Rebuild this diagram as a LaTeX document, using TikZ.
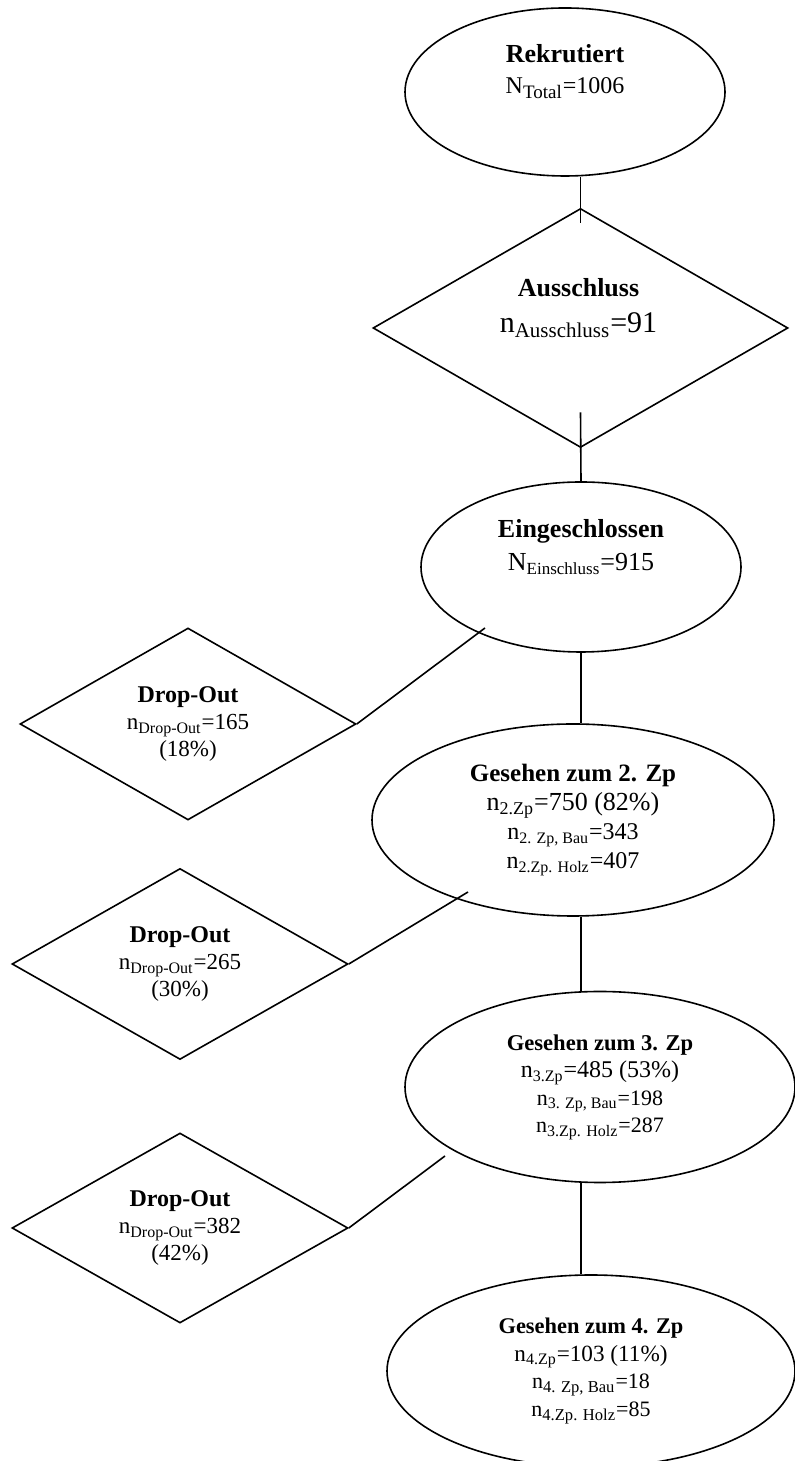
\documentclass[tikz,border=0pt]{standalone}
\usepackage{fontspec}
\setmainfont{Liberation Serif}
\usetikzlibrary{shapes.geometric}

\newcommand{\idx}[2]{\textsubscript{\fontsize{#1}{#1}\selectfont #2}}
\newcommand{\tsz}[2]{\fontsize{#1}{#2}\selectfont}

\begin{document}
\begin{tikzpicture}[x=.5pt,y=.5pt,line width=.8pt,
    oval/.style={draw,ellipse,inner sep=0pt,align=center},
    rhomb/.style={draw,diamond,aspect=1.75,inner sep=0pt,align=center},
    txt/.style={inner sep=0pt,align=center}]
  \useasboundingbox (0,0) rectangle (795,1461);

  % main column
  \node[oval,minimum width=160pt,minimum height=84pt] (rek) at (565,1369) {};
  \node[txt,font=\tsz{13}{15.5}] (rek-t) at ([shift={(0,20)}]rek.center)
    {\tsz{13}{15.5}\textbf{Rekrutiert}\\\tsz{12}{15.5}N\idx{9.5}{Total}=1006};
  \node[rhomb,minimum width=207.5pt,minimum height=119.5pt] (aus) at (580.5,1133) {};
  \node[txt,font=\tsz{13}{18}] (aus-t) at ([shift={(-2,20)}]aus.center)
    {\tsz{13}{18}\textbf{Ausschluss}\\\tsz{15}{18}n\idx{10.5}{Ausschluss}=91};
  \node[oval,minimum width=160pt,minimum height=85pt] (ein) at (581,894) {};
  \node[txt,font=\tsz{13}{16.5}] (ein-t) at ([shift={(0,20)}]ein.center)
    {\tsz{13}{16.5}\textbf{Eingeschlossen}\\\tsz{13}{16.5}N\idx{8.5}{Einschluss}=915};
  \node[oval,minimum width=201pt,minimum height=96pt,font=\tsz{12}{14.5}] (zp2) at (573,641)
    {\tsz{12.5}{14.5}\textbf{Gesehen zum 2. Zp}\\\tsz{13}{14.5}n\idx{9}{2.Zp}=750 (82\%)\\
     \tsz{12}{14.5}n\idx{8}{2. Zp, Bau}=343\\\tsz{12}{14.5}n\idx{8}{2.Zp. Holz}=407};
  \node[oval,minimum width=195pt,minimum height=95.5pt,font=\tsz{11}{13.7}] (zp3) at (600,374)
    {\tsz{11.3}{13.7}\textbf{Gesehen zum 3. Zp}\\\tsz{12}{13.7}n\idx{8}{3.Zp}=485 (53\%)\\
     \tsz{11}{13.7}n\idx{8}{3. Zp, Bau}=198\\\tsz{11}{13.7}n\idx{8}{3.Zp. Holz}=287};
  \node[oval,minimum width=204pt,minimum height=96pt,font=\tsz{11}{13.7}] (zp4) at (591,90)
    {\tsz{11.2}{13.7}\textbf{Gesehen zum 4. Zp}\\\tsz{11.6}{13.7}n\idx{8}{4.Zp}=103 (11\%)\\
     \tsz{11}{13.7}n\idx{8.3}{4. Zp, Bau}=18\\\tsz{11}{13.7}n\idx{8.3}{4.Zp. Holz}=85};

  % drop-outs
  \node[rhomb,minimum width=168pt,minimum height=96pt,font=\tsz{11.5}{13.3}] (drop1) at (188,737)
    {\tsz{12}{13.3}\textbf{Drop-Out}\\\tsz{11.5}{13.3}n\idx{8}{Drop-Out}=165\\\tsz{11.5}{13.3}(18\%)};
  \node[rhomb,minimum width=168pt,minimum height=95.5pt,font=\tsz{11.5}{13.3}] (drop2) at (180,497)
    {\tsz{12}{13.3}\textbf{Drop-Out}\\\tsz{11.5}{13.3}n\idx{8}{Drop-Out}=265\\\tsz{11.5}{13.3}(30\%)};
  \node[rhomb,minimum width=168pt,minimum height=95pt,font=\tsz{11.5}{13.3}] (drop3) at (180,233)
    {\tsz{12}{13.3}\textbf{Drop-Out}\\\tsz{11.5}{13.3}n\idx{8}{Drop-Out}=382\\\tsz{11.5}{13.3}(42\%)};

  % connectors
  \draw (aus.north |- rek.south) -- ([yshift=-7.5pt]aus.north);
  \draw ([yshift=18pt]aus.south) -- (ein.north);
  \draw (ein.south) -- (ein.south |- zp2.north);
  \draw (ein.south |- zp2.south) -- (ein.south |- zp3.north);
  \draw (ein.south |- zp3.south) -- (ein.south |- zp4.north);
  \draw (drop1.east) -- ([shift={(-96,-61)}]ein.center);
  \draw (drop2.east) -- ([shift={(-105,-72)}]zp2.center);
  \draw (drop3.east) -- ([shift={(-155,-69)}]zp3.center);
\end{tikzpicture}
\end{document}
